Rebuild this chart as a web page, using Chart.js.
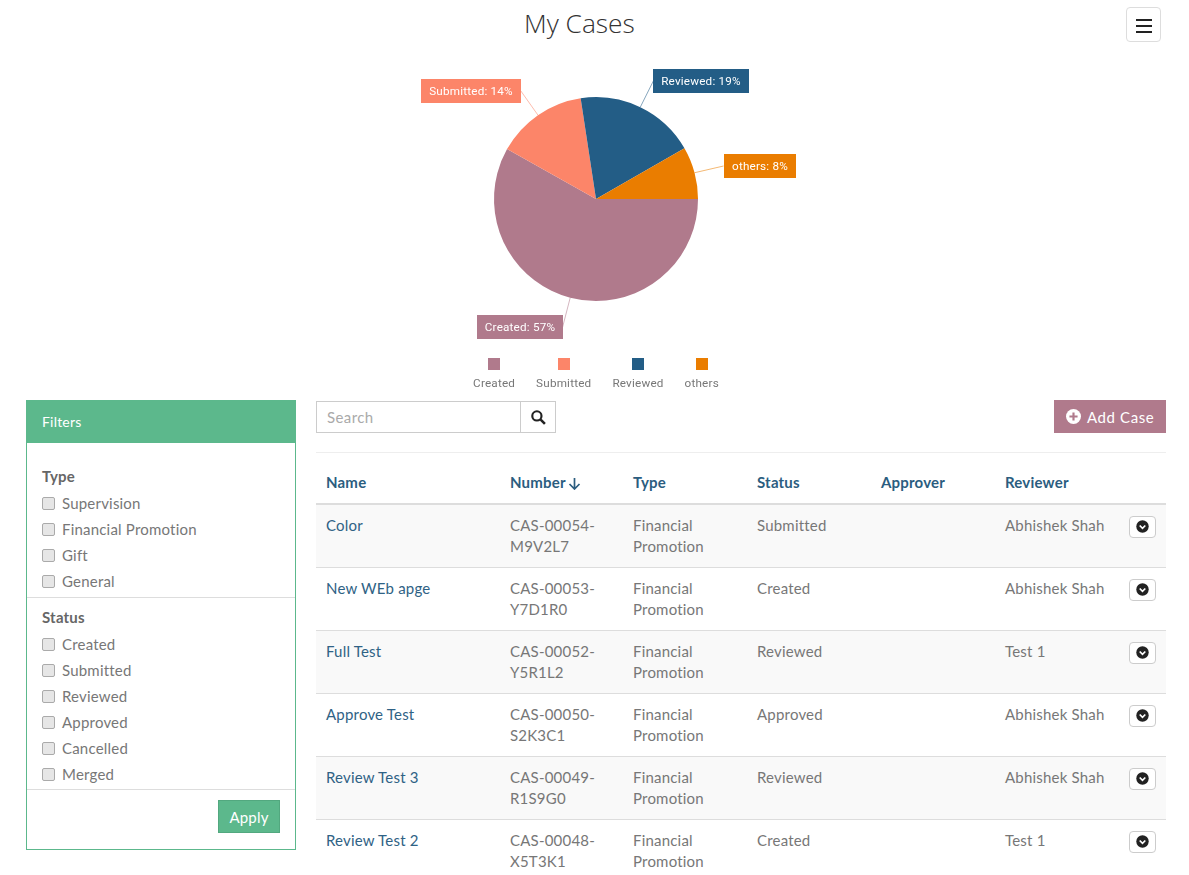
<!DOCTYPE html>
<html><head><meta charset="utf-8">
<script src="https://cdn.jsdelivr.net/npm/chart.js@4/dist/chart.umd.js"></script>
<style>
html,body{margin:0;padding:0;background:#fff;width:1189px;height:875px;overflow:hidden}
body{position:relative;font-family:Lato,sans-serif;font-size:15px;color:#777;letter-spacing:.2px}
.a{position:absolute;white-space:nowrap;line-height:20px}
#title{left:524px;top:5px;font:300 26.3px/36px "Open Sans",sans-serif;color:#333;letter-spacing:0}
#menu{left:1126px;top:7px;width:33px;height:33px;border:1px solid #ddd;border-radius:4px}
#menu i{position:absolute;left:9px;width:16px;height:2px;background:#222}
#wrap{position:absolute;left:296px;top:0;width:600px;height:400px}
#panel{left:26px;top:400px;width:268px;height:448px;border:1px solid #5cb88c}
#phead{position:absolute;left:-1px;top:-1px;width:270px;height:43px;background:#5cb88c}
.cb{position:absolute;left:42px;width:11px;height:11px;border:1px solid #aaa;border-radius:2px;background:#e6e6e6}
.hr{position:absolute;height:1px;background:#ddd}
.bold{font-weight:700;color:#666}
.cell{position:absolute;line-height:21px;letter-spacing:.2px}
.th{color:#2b5d7f;font-weight:700;letter-spacing:.2px}
.row{position:absolute;left:316px;width:850px;height:62px;border-top:1px solid #ddd}
.btn{position:absolute;left:1129px;width:25px;height:20px;border:1px solid #ccc;border-radius:4px;background:#fff}
</style></head><body>
<div id="title" class="a">My Cases</div>
<div id="menu" class="a"><i style="top:11px"></i><i style="top:17px"></i><i style="top:23px"></i></div>
<div id="wrap"><canvas id="c"></canvas></div>
<div id="root"></div>
<script>
const categories=["Created","Submitted","Reviewed","others"];
const caseShares=[57.49,14.3,18.9,8.2];
const sliceColors=["#b07a8c","#fc8569","#235d86","#ea7d00"];
const typeFilters=["Supervision","Financial Promotion","Gift","General"];
const statusFilters=["Created","Submitted","Reviewed","Approved","Cancelled","Merged"];
const tableHeaders=["Name","Number","Type","Status","Approver","Reviewer"];
const caseNames=["Color","New WEb apge","Full Test","Approve Test","Review Test 3","Review Test 2"];
const caseNumbers=[["CAS-00054-","M9V2L7"],["CAS-00053-","Y7D1R0"],["CAS-00052-","Y5R1L2"],["CAS-00050-","S2K3C1"],["CAS-00049-","R1S9G0"],["CAS-00048-","X5T3K1"]];
const caseStatuses=["Submitted","Created","Reviewed","Approved","Reviewed","Created"];
const caseReviewers=["Abhishek Shah","Abhishek Shah","Test 1","Abhishek Shah","Abhishek Shah","Test 1"];
const caseType=["Financial","Promotion"];

const calloutPlugin={id:"callouts",afterDraw(chart){
  const ctx=chart.ctx,arcs=chart.getDatasetMeta(0).data,d=chart.data;
  const FONT='11.7px Roboto,sans-serif';
  arcs.forEach((arc,i)=>{
    const p=arc.getProps(["x","y","startAngle","endAngle","outerRadius"],true);
    const m=(p.startAngle+p.endAngle)/2,cos=Math.cos(m),sin=Math.sin(m);
    const ax=p.x+cos*(p.outerRadius+30),ay=Math.round(p.y+sin*(p.outerRadius+30)+.5);
    const col=d.datasets[0].backgroundColor[i];
    ctx.save();
    ctx.strokeStyle=col;ctx.globalAlpha=.55;ctx.lineWidth=1;
    ctx.beginPath();ctx.moveTo(p.x+cos*p.outerRadius,p.y+sin*p.outerRadius);ctx.lineTo(ax,ay);ctx.stroke();
    ctx.globalAlpha=1;ctx.font=FONT;
    const txt=d.labels[i]+": "+Math.round(d.datasets[0].data[i])+"%";
    const w=Math.round(ctx.measureText(txt).width)+16;
    const bx=Math.round(cos<0?ax-w:ax);
    ctx.fillStyle=col;ctx.fillRect(bx,ay-12,w,24);
    ctx.fillStyle="#fff";ctx.textBaseline="middle";ctx.textAlign="center";
    ctx.fillText(txt,bx+w/2,ay+1);
    ctx.restore();
  });
  // legend: square over label, centred row
  ctx.save();ctx.font=FONT;ctx.textAlign="center";ctx.textBaseline="middle";
  const widths=d.labels.map(l=>ctx.measureText(l).width),gap=21;
  let x=chart.width/2-(widths.reduce((a,b)=>a+b,0)+gap*(widths.length-1))/2;
  d.labels.forEach((l,i)=>{
    const cx=x+widths[i]/2;
    ctx.fillStyle=d.datasets[0].backgroundColor[i];ctx.fillRect(Math.round(cx-6),358,12,12);
    ctx.fillStyle="#777";ctx.fillText(l,cx,384);
    x+=widths[i]+gap;
  });
  ctx.restore();
}};
new Chart(document.getElementById("c"),{type:"pie",
 data:{labels:categories,datasets:[{data:caseShares,backgroundColor:sliceColors,borderWidth:0}]},
 options:{responsive:true,maintainAspectRatio:false,animation:false,rotation:90,
  layout:{padding:{top:97,bottom:99}},
  plugins:{legend:{display:false},tooltip:{enabled:false}}},
 plugins:[calloutPlugin]});

let h="";
const txt=(x,y,t,c="")=>`<div class="a ${c}" style="left:${x}px;top:${y-11}px">${t}</div>`;
h+=`<div id="panel" class="a"><div id="phead"></div></div>`;
h+=`<div class="a" style="left:42px;top:412px;color:#fff;font-size:14px">Filters</div>`;
h+=txt(42,477,"Type","bold");
typeFilters.forEach((t,i)=>{const y=504+26*i;h+=`<div class="cb" style="top:${y-7}px"></div>`+txt(62,y,t)});
h+=`<div class="hr" style="left:27px;width:268px;top:597px"></div>`;
h+=txt(42,618,"Status","bold");
statusFilters.forEach((t,i)=>{const y=645+26*i;h+=`<div class="cb" style="top:${y-7}px"></div>`+txt(62,y,t)});
h+=`<div class="hr" style="left:27px;width:268px;top:789px"></div>`;
h+=`<div class="a" style="left:218px;top:800px;width:60px;height:31px;border:1px solid #52a87f;background:#5cb88c;color:#fff;text-align:center;line-height:33px">Apply</div>`;
// search
h+=`<div class="a" style="left:316px;top:401px;width:238px;height:30px;border:1px solid #ccc"></div>`;
h+=`<div class="a" style="left:520px;top:401px;width:1px;height:32px;background:#ccc"></div>`;
h+=`<div class="a" style="left:327px;top:407px;color:#aaa;letter-spacing:.4px">Search</div>`;
h+=`<svg class="a" style="left:531px;top:410px" width="15" height="15" viewBox="0 0 14 14"><circle cx="5.5" cy="5.5" r="4.3" fill="none" stroke="#222" stroke-width="2"/><path d="M9 9l4 4" stroke="#222" stroke-width="2.4"/></svg>`;
// add case
h+=`<div class="a" style="left:1054px;top:400px;width:112px;height:33px;background:#b07a8c"></div>`;
h+=`<svg class="a" style="left:1066px;top:409px" width="15" height="15" viewBox="0 0 14 14"><circle cx="7" cy="7" r="7" fill="#fff"/><path d="M7 3.2v7.6M3.2 7h7.6" stroke="#b07a8c" stroke-width="2"/></svg>`;
h+=`<div class="a" style="left:1087px;top:407px;color:#fff;letter-spacing:.6px">Add Case</div>`;
h+=`<div class="hr" style="left:316px;width:850px;top:452px;background:#eee"></div>`;
// table
const colX=[326,510,633,757,881,1005];
tableHeaders.forEach((t,i)=>{h+=`<div class="cell th" style="left:${colX[i]}px;top:472px">${t}</div>`});
h+=`<svg class="a" style="left:568px;top:477px" width="13" height="13" viewBox="0 0 13 13"><path d="M6.5 1v10.5M1.5 7l5 5 5-5" fill="none" stroke="#2b5d7f" stroke-width="1.7"/></svg>`;
caseNames.forEach((n,i)=>{
  const top=505+63*i;
  const bg=i%2==0?"#f9f9f9":"#fff";
  h+=`<div class="row" style="top:${top-1}px;background:${bg};"></div>`;
  const y=top+10;
  h+=`<div class="cell" style="left:326px;top:${y}px;color:#2f6285">${n}</div>`;
  h+=`<div class="cell" style="left:510px;top:${y}px">${caseNumbers[i].join("<br>")}</div>`;
  h+=`<div class="cell" style="left:633px;top:${y}px">${caseType.join("<br>")}</div>`;
  h+=`<div class="cell" style="left:757px;top:${y}px">${caseStatuses[i]}</div>`;
  h+=`<div class="cell" style="left:1005px;top:${y}px">${caseReviewers[i]}</div>`;
  h+=`<div class="btn" style="top:${top+11}px"><svg style="position:absolute;left:6px;top:3px" width="13" height="13" viewBox="0 0 13 13"><circle cx="6.5" cy="6.5" r="6.2" fill="#222"/><path d="M3.7 5.5l2.8 2.8 2.8-2.8" fill="none" stroke="#fff" stroke-width="1.7"/></svg></div>`;
});
h+=`<div class="hr" style="left:316px;width:850px;top:503px;height:2px;background:#ddd"></div>`;
document.getElementById("root").innerHTML=h;
</script>
</body></html>
